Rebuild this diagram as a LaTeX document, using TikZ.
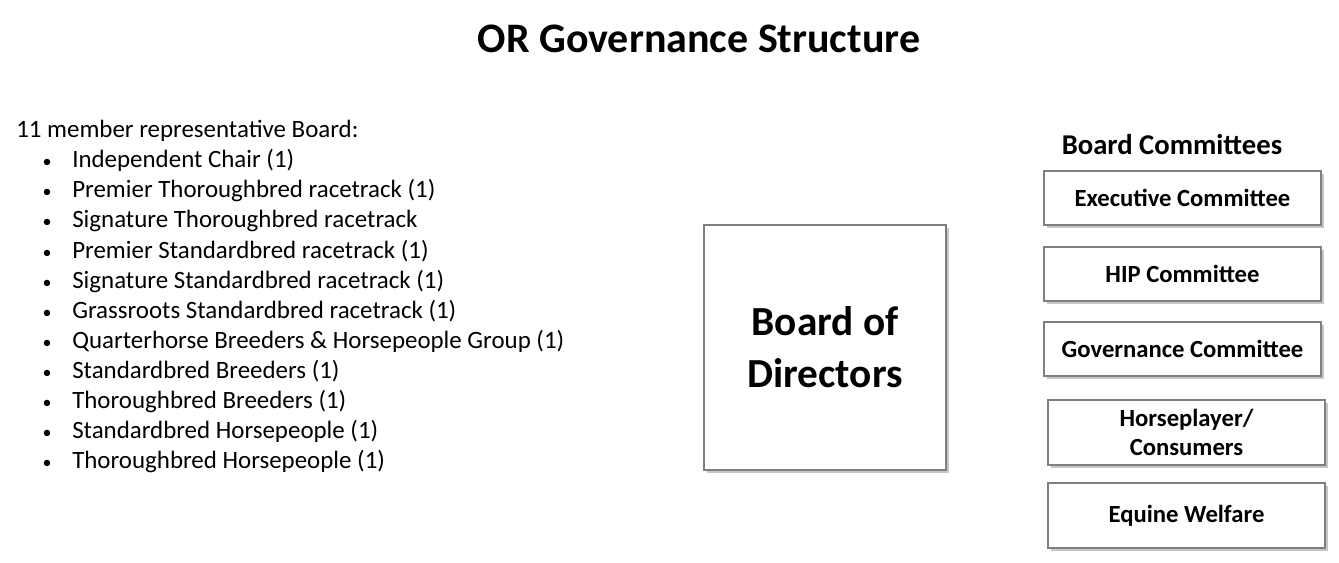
\documentclass[tikz,border=0pt]{standalone}
\usepackage{fontspec}
\setmainfont{Carlito}
\usetikzlibrary{shadows}

\newcommand{\dotmark}{\llap{{\fontsize{13.5}{13.5}\selectfont\textbullet}\hspace{15.5pt}}}

\begin{document}
\begin{tikzpicture}[x=0.75pt, y=-0.75pt,
    item/.style={anchor=base west, inner sep=0pt, font=\fontsize{18.7}{22}\selectfont},
    box/.style={draw=boxgray, line width=1.5pt, fill=white, align=center,
      font=\bfseries\fontsize{18.5}{22}\selectfont,
      drop shadow={shadow xshift=2.5pt, shadow yshift=-2.5pt, opacity=0.45}},
  ]
    \definecolor{boxgray}{HTML}{7F7F7F}
    \useasboundingbox (0,0) rectangle (1339,563);

    \node[font=\bfseries\fontsize{31.5}{38}\selectfont] (title) at (699,39) {OR Governance Structure};

    % member list
    \node[item] (head) at (16,138) {11 member representative Board:};
    \node[item] (b1) at (72,168) {\dotmark Independent Chair (1)};
    \node[item] (b2) at (72,198) {\dotmark Premier Thoroughbred racetrack (1)};
    \node[item] (b3) at (72,228) {\dotmark Signature Thoroughbred racetrack};
    \node[item] (b4) at (72,258) {\dotmark Premier Standardbred racetrack (1)};
    \node[item] (b5) at (72,288) {\dotmark Signature Standardbred racetrack (1)};
    \node[item] (b6) at (72,318) {\dotmark Grassroots Standardbred racetrack (1)};
    \node[item] (b7) at (72,348) {\dotmark Quarterhorse Breeders \& Horsepeople Group (1)};
    \node[item] (b8) at (72,378) {\dotmark Standardbred Breeders (1)};
    \node[item] (b9) at (72,408) {\dotmark Thoroughbred Breeders (1)};
    \node[item] (b10) at (72,438) {\dotmark Standardbred Horsepeople (1)};
    \node[item] (b11) at (72,468) {\dotmark Thoroughbred Horsepeople (1)};

    \node[box, minimum width=181.5pt, minimum height=183.75pt,
      font=\bfseries\fontsize{31}{39}\selectfont] (board) at (825,347.5) {Board of\\Directors};

    % committees
    \node[font=\bfseries\fontsize{21.5}{26}\selectfont] (comm) at (1172,145) {Board Committees};
    \node[box, minimum width=207.75pt, minimum height=40.5pt] (exec) at (1182.5,198) {Executive Committee};
    \node[box, minimum width=207.75pt, minimum height=40.5pt] (hip) at (1182.5,273.5) {HIP Committee};
    \node[box, minimum width=207.75pt, minimum height=40.5pt] (gov) at (1182.5,348.5) {Governance Committee};
    \node[box, minimum width=207.75pt, minimum height=48.75pt] (horse) at (1186.5,432.5) {Horseplayer/\\Consumers};
    \node[box, minimum width=207.75pt, minimum height=48.75pt] (equine) at (1186.5,515.5) {Equine Welfare};
  \end{tikzpicture}
\end{document}
